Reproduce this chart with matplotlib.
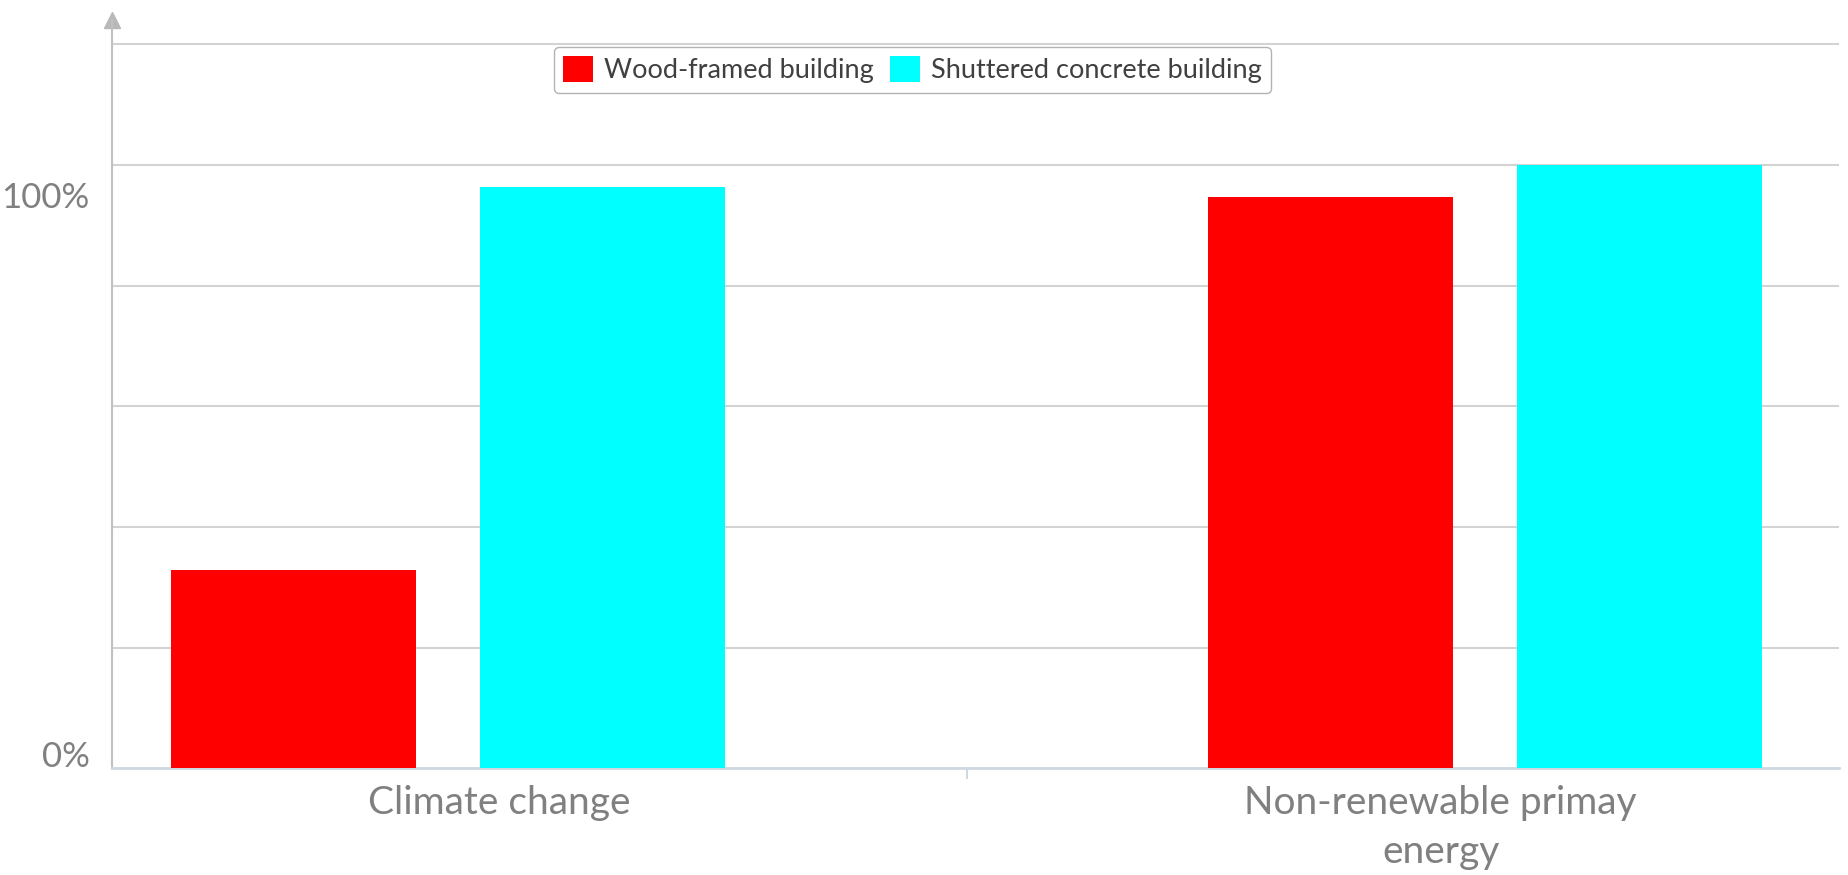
import matplotlib.pyplot as plt
import matplotlib.transforms as mtransforms
import numpy as np

# data (percent)
categories = ['Climate change', 'Non-renewable primay\nenergy']
wood = [32.9, 94.7]
concrete = [96.3, 100.0]
series_names = ['Wood-framed building', 'Shuttered concrete building']
ytick_vals = [0, 100]
ytick_labels = ['0%', '100%']

plt.rcParams['font.family'] = ['Lato', 'DejaVu Sans']
grey = '#808080'

fig = plt.figure(figsize=(18.49, 8.75), dpi=100)
ax = fig.add_axes([0.0606, 0.122, 0.934, 0.855])

x = np.arange(len(categories))
w = 0.236
off = 0.149
ax.bar(x - off, wood, w, color='#ff0000', label=series_names[0], zorder=3)
ax.bar(x + off, concrete, w, color='#00ffff', label=series_names[1], zorder=3)

ax.set_xlim(-0.324, 1.341)
ax.set_ylim(0, 124)

# gridlines every 20%
for g in range(20, 121, 20):
    ax.axhline(g, color='#d3d3d3', linewidth=1.5, zorder=1)

ax.set_yticks(ytick_vals)
ax.set_yticklabels(ytick_labels, fontsize=25, color=grey)
ax.tick_params(axis='y', length=0, pad=16)
# label offsets as in the original screenshot
shifts = [14, -30]
for lab, s in zip(ax.get_yticklabels(), shifts):
    lab.set_transform(lab.get_transform() + mtransforms.ScaledTranslation(0, s / 100, fig.dpi_scale_trans))

ax.set_xticks(x + np.array([0.049, -0.043]))
ax.set_xticklabels(categories, fontsize=28, color=grey, linespacing=1.45)
ax.set_xticks([0.5], minor=True)
ax.tick_params(axis='x', which='major', length=0, pad=12)
ax.tick_params(axis='x', which='minor', length=8, color='#cfd8e0', width=1.5)

for s in ['top', 'right']:
    ax.spines[s].set_visible(False)
ax.spines['left'].set_color('#c0c0c0')
ax.spines['left'].set_linewidth(1.5)
ax.spines['bottom'].set_color('#cfd8e0')
ax.spines['bottom'].set_linewidth(2)
ax.plot([0], [1], marker='^', color='#b8b8b8', markersize=12, transform=ax.transAxes, clip_on=False)

leg = ax.legend(loc='upper center', bbox_to_anchor=(0.4935, 0.962), bbox_transform=fig.transFigure,
                ncol=2, fontsize=19.5, frameon=True, fancybox=True, edgecolor='#a0a0a0',
                handlelength=1.1, handleheight=1.1, columnspacing=0.6, handletextpad=0.4,
                borderpad=0.35)
for t in leg.get_texts():
    t.set_color('#404040')

fig.savefig('out.png', dpi=100)
